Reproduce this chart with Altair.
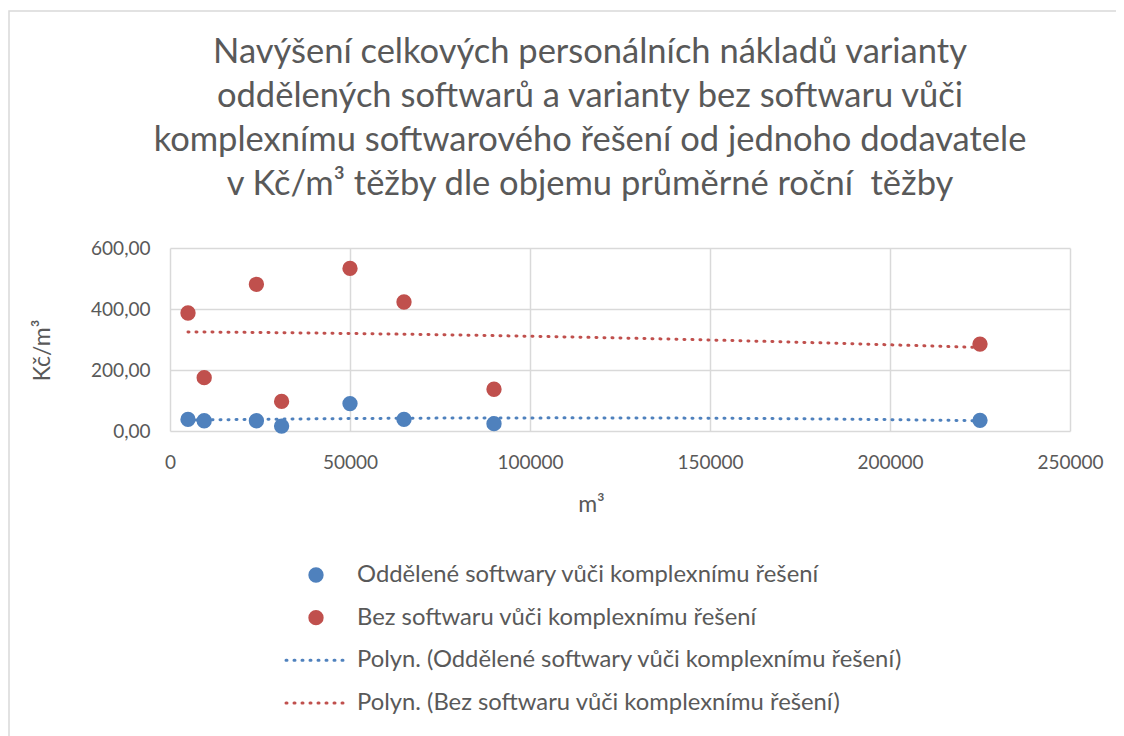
import altair as alt
import pandas as pd

# ---- data ----
volumes = [5000, 9500, 24000, 31000, 50000, 65000, 90000, 225000]
separate_sw = [38, 33.5, 33.5, 16, 90, 38, 24, 35]
no_sw = [387, 175, 481, 97, 533, 423, 137, 285]
series_names = ["Oddělené softwary vůči komplexnímu řešení",
                "Bez softwaru vůči komplexnímu řešení"]
trend_names = ["Polyn. (Oddělené softwary vůči komplexnímu řešení)",
               "Polyn. (Bez softwaru vůči komplexnímu řešení)"]
colors = ["#4F81BD", "#C0504D"]
x_ticks = [0, 50000, 100000, 150000, 200000, 250000]
y_ticks = [0, 200, 400, 600]
title_lines = ["Navýšení celkových personálních nákladů varianty",
               "oddělených softwarů a varianty bez softwaru vůči",
               "komplexnímu softwarového řešení od jednoho dodavatele",
               "v Kč/m³ těžby dle objemu průměrné roční\u00a0 těžby"]

FONT = "Lato"
TXT = "#595959"
GRID = "#d9d9d9"

rows = []
for name, vals in zip(series_names, [separate_sw, no_sw]):
    for xv, yv in zip(volumes, vals):
        rows.append({"series": name, "x": xv, "y": yv})
df = pd.DataFrame(rows)

legend_labels = series_names + trend_names
legend_df = pd.DataFrame({
    "label": legend_labels,
    "series": series_names + series_names,
    "kind": ["point", "point", "line", "line"],
})

color = alt.Color("series:N", scale=alt.Scale(domain=series_names, range=colors), legend=None)

xs = alt.Scale(domain=[0, 250000], nice=False)
ys = alt.Scale(domain=[0, 600], nice=False)

points = alt.Chart(df).mark_circle(size=235, opacity=1).encode(
    x=alt.X("x:Q", scale=xs, axis=alt.Axis(
        values=x_ticks, format="d", title="m³", labelPadding=22, labelFlush=False,
        titleX=421, titleY=73, titleAlign="center", titleBaseline="middle",
        titleFontSize=23, titleFont=FONT, titleColor=TXT, titleFontWeight="normal")),
    y=alt.Y("y:Q", scale=ys, axis=alt.Axis(
        values=y_ticks, labelExpr="replace(format(datum.value, '.2f'), '.', ',')",
        title="Kč/m³", labelPadding=20, labelFlush=False,
        titleX=-128, titleY=102, titleAlign="center", titleBaseline="middle",
        titleFontSize=23, titleFont=FONT, titleColor=TXT, titleFontWeight="normal")),
    color=color,
)

trend = alt.Chart(df).transform_regression(
    "x", "y", groupby=["series"], method="poly", order=2
).mark_line(strokeDash=[1, 7], strokeWidth=3, strokeCap="round").encode(
    x=alt.X("x:Q", scale=xs),
    y=alt.Y("y:Q", scale=ys),
    color=color,
)

main = alt.layer(trend, points)

ly = alt.Y("label:N", sort=legend_labels,
           scale=alt.Scale(type="point", domain=legend_labels, range=[327, 455], padding=0),
           axis=None)

leg_pts = alt.Chart(legend_df).transform_filter("datum.kind == 'point'").mark_circle(
    size=235, opacity=1).encode(x=alt.value(146), y=ly, color=color)
leg_lines = alt.Chart(legend_df).transform_filter("datum.kind == 'line'").mark_rule(
    strokeDash=[1, 7], strokeWidth=3, strokeCap="round").encode(
    x=alt.value(116), x2=alt.value(178), y=ly, color=color)
leg_text = alt.Chart(legend_df).mark_text(
    align="left", baseline="middle", fontSize=23.8, font=FONT, color=TXT).encode(
    x=alt.value(187), y=ly, text="label:N")
legend = alt.layer(leg_pts, leg_lines, leg_text)

title_df = pd.DataFrame({"k": [0]})
title = alt.Chart(title_df).mark_text(
    align="center", baseline="middle", fontSize=34.5, font=FONT, color=TXT,
    lineHeight=44, text=title_lines).encode(x=alt.value(420), y=alt.value(-195))

frame = alt.Chart(pd.DataFrame({"a": [0]})).mark_rect(
    fillOpacity=0, stroke=GRID, strokeWidth=1.5).encode(
    x=alt.value(-161), x2=alt.value(1200), y=alt.value(-237), y2=alt.value(900))

chart = alt.layer(frame, title, main, legend).resolve_scale(y="independent").properties(
    width=900, height=183,
    autosize=alt.AutoSizeParams(type="none"),
    padding={"left": 162, "top": 240, "right": 46, "bottom": 305},
).configure_view(stroke=None).configure_axis(
    grid=True, gridColor=GRID, gridWidth=1.5, domain=False, ticks=False,
    labelColor=TXT, labelFont=FONT, labelFontSize=19,
)

chart.save("out.html", embed_options={"renderer": "svg", "actions": False})
